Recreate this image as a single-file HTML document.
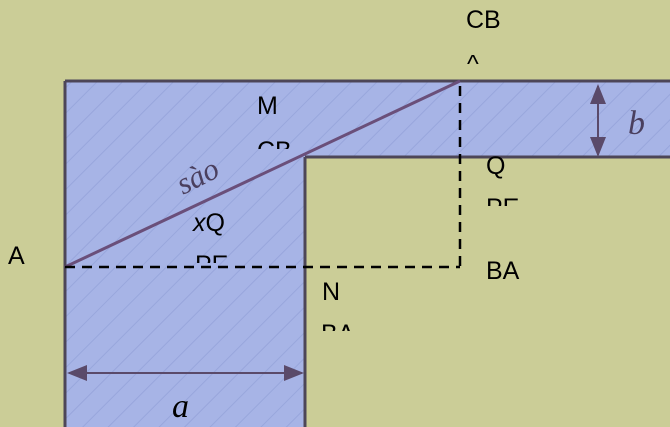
<!DOCTYPE html>
<html><head><meta charset="utf-8"><style>
html,body{margin:0;padding:0;background:#cbcd97;}
svg{display:block}
text{font-family:"Liberation Sans",sans-serif;fill:#000;font-size:25px}
.it{font-family:"Liberation Serif",serif;font-style:italic}
</style></head><body>
<svg width="670" height="427" viewBox="0 0 670 427">
<defs>
<pattern id="hatch" width="18" height="18" patternUnits="userSpaceOnUse" patternTransform="rotate(45)">
<rect width="18" height="18" fill="#a7b4e6"/>
<line x1="0" y1="0" x2="0" y2="18" stroke="#98a6dc" stroke-width="2"/>
</pattern>
<clipPath id="c1"><rect x="240" y="136" width="80" height="13"/></clipPath>
<clipPath id="c2"><rect x="180" y="250" width="80" height="13"/></clipPath>
<clipPath id="c3"><rect x="310" y="318" width="80" height="13"/></clipPath>
<clipPath id="c4"><rect x="470" y="193" width="80" height="13"/></clipPath>
<clipPath id="c5"><rect x="450" y="50" width="60" height="14"/></clipPath>
<marker id="ar" markerWidth="10" markerHeight="8" refX="9" refY="4" orient="auto-start-reverse"><path d="M0,0 L10,4 L0,8 Z" fill="#5a4a6a"/></marker>
</defs>
<rect width="670" height="427" fill="#cbcd97"/>
<path d="M65,81 L670,81 L670,157 L305,157 L305,427 L65,427 Z" fill="url(#hatch)"/>
<g stroke="#4d4658" stroke-width="3" fill="none">
<line x1="65" y1="81" x2="670" y2="81"/>
<line x1="65" y1="81" x2="65" y2="427"/>
<line x1="305" y1="157" x2="305" y2="427"/>
<line x1="305" y1="157" x2="670" y2="157"/>
</g>
<line x1="65" y1="267" x2="460" y2="81" stroke="#6a4f7a" stroke-width="3"/>
<g stroke="#000" stroke-width="2.5" stroke-dasharray="10,7">
<line x1="65" y1="267" x2="460" y2="267"/>
<line x1="460" y1="86" x2="460" y2="267"/>
</g>
<line x1="598" y1="86" x2="598" y2="155" stroke="#5a4a6a" stroke-width="2" marker-start="url(#ar)" marker-end="url(#ar)"/>
<line x1="69" y1="373" x2="302" y2="373" stroke="#5a4a6a" stroke-width="2" marker-start="url(#ar)" marker-end="url(#ar)"/>
<text x="628" y="134" class="it" style="font-size:34px;fill:#4a3f5e">b</text>
<text x="172" y="417" class="it" style="font-size:34px">a</text>
<text x="0" y="0" class="it" style="font-size:31px;fill:#4a3f5e" transform="translate(183,195) rotate(-27)">sào</text>
<text x="466" y="28">CB</text>
<text x="467" y="72" clip-path="url(#c5)">^</text>
<text x="257" y="114">M</text>
<text x="257" y="159" clip-path="url(#c1)">CB</text>
<text x="193" y="231"><tspan font-style="italic">x</tspan>Q</text>
<text x="195" y="273" clip-path="url(#c2)">PE</text>
<text x="8" y="264">A</text>
<text x="322" y="300">N</text>
<text x="321" y="342" clip-path="url(#c3)">BA</text>
<text x="486" y="174">Q</text>
<text x="486" y="216" clip-path="url(#c4)">PE</text>
<text x="486" y="279">BA</text>
</svg>
</body></html>
